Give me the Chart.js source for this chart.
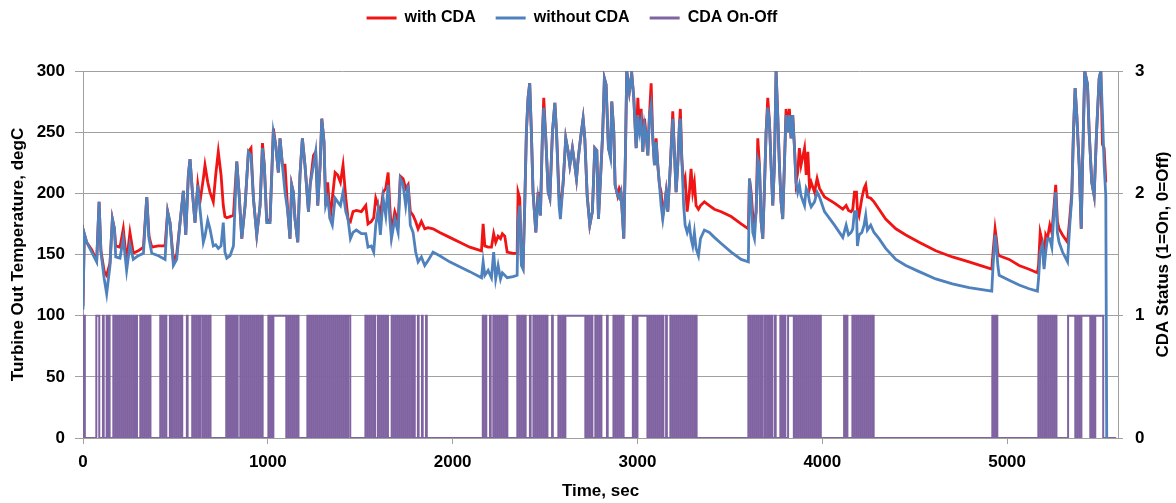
<!DOCTYPE html>
<html>
<head>
<meta charset="utf-8">
<script src="https://cdn.jsdelivr.net/npm/chart.js@4/dist/chart.umd.min.js"></script>
<style>
  html, body { margin: 0; padding: 0; background: #fff; }
  #wrap { width: 1176px; height: 503px; }
</style>
</head>
<body>
<div id="wrap"><canvas id="chart" width="1176" height="503"></canvas></div>
<script>
// Turbine out temperature (sec, degC)
const timeSec = [
  0,7,20,47,74,87,97,115,128,146, 159,170,177,200,218,236,254,272,299,327,
  345,357,372,408,444,458,471,489,507,525, 543,556,570,579,592,606,621,633,651,660,
  675,687,705,718,732,747,759,768,778,796, 814,832,844,859,877,895,909,922,940,958,
  971,981,994,1012,1030,1043,1057,1066,1079,1093, 1108,1120,1129,1138,1147,1162,1174,1187,1201,1220,
  1229,1247,1259,1270,1283,1292,1304,1313,1324,1337, 1349,1364,1378,1393,
  1407,1422,1434,1447,1461,1479,1506,1530,1542,1560, 1573,1584,1597,1609,1624,1638,1651,1660,1669,1687,
  1705,1717,1732,1746,1759,1771,1786,1800,1813,1831, 1849,1867,1894,1930,1984,2038,2093,2156,2165,2174,
  2192,2210,2222,2233,2246,2259,2269,2282,2295,2327, 2349,2354,2363,2372,2381,2390,2399,2408,2417,2426,
  2435,2450,2462,2475,2486,2493,2504,2517,2526,2540, 2553,2562,2576,2583,2598,2612,2625,2634,2648,2661,
  2670,2679,2692,2706,2715,2728,2742,2756,2769,2780, 2789,
  2799,2812,2821,2830,2843,2854,2861,2872,2879,2893, 2902,2911,2926,2935,2942,2956,2969,2980,2993,3002,
  3011,3020,3029,3038,3047,3056,3065,3074,3083,3092, 3101,3110,3119,3128,3137,3146,3155,3164,3178,3191,
  3200,3209,3218,3227,3232,3240,3250,3258,3269,3281, 3290,3299,3308,3317,3330,3341,3362,3389,3416,3453,
  3507,3561,3600,3606,3615,3624,3633,3642,3651,3660, 3669,3678,3687,3696,3705,3714,3723,3732,3741,3750,
  3759,3768,3777,3786,3795,3804,3813,3822,3831,3840, 3849,3858,3867,3876,3885,3904,3913,3922,3931,3940,
  3958,3972,3985,4012,4066,4111,4129,4142,4156,4165, 4174,4185,
  4190,4199,4214,4226,4235,4244,4262,4280,4307,4343, 4398,4452,4524,4614,4704,4794,4917,4924,4935,4942,
  4950,4957,5011,5065,5119,5164,5170,5179,5191,5200, 5209,5218,5231,5242,5254,5263,5272,5281,5300,5327,
  5339,5350,5359,5368,5377,5390,5401,5408,5420,5435, 5444,5458,5471,5484,5498,5507,5516,5525,5534,5539
];

const withCDA = [
  108,167,160,154,145,193,153,136,133,143, 179,171,157,156,171,144,168,151,153,156,
  197,165,156,157,157,185,176,145,150,176, 202,166,215,228,201,176,207,193,212,223,
  209,201,193,215,234,215,190,181,180,181, 182,226,201,163,190,234,237,196,166,190,
  241,223,178,178,253,239,217,245,223,223, 185,163,207,201,179,160,215,245,223,185,
  207,231,234,190,223,261,242,190,209,179, 196,217,215,209,
  223,196,179,177,185,186,185,190,175,177, 180,196,190,182,201,204,217,190,168,185,
  177,214,212,204,207,185,182,177,171,177, 171,172,171,168,164,160,156,153,175,157,
  156,156,167,160,165,163,167,165,152,151, 151,201,196,144,140,190,250,278,290,250,
  201,168,201,182,250,278,245,201,196,250, 274,250,198,185,209,245,234,223,237,223,
  212,228,245,261,245,198,174,185,237,235, 179,
  209,250,294,289,237,231,275,250,207,198, 204,201,163,234,300,283,298,278,237,278,
  250,269,234,261,248,231,264,290,245,223, 245,223,207,201,182,190,201,185,223,267,
  234,201,223,256,269,228,207,212,185,201, 220,201,209,190,187,190,193,190,187,185,
  181,175,171,212,201,182,176,185,245,223, 177,163,204,250,278,259,223,190,223,300,
  264,223,193,179,223,269,250,269,245,264, 239,209,217,237,223,237,215,234,204,209,
  201,212,204,197,192,187,190,186,185,187, 201,201,
  187,182,196,204,207,197,196,193,187,179, 171,166,160,153,148,144,138,152,171,163,
  151,149,146,141,138,135,141,168,160,141, 166,163,174,168,190,207,177,171,166,160,
  180,200,250,286,264,223,171,223,300,289, 250,209,198,250,294,300,240,237,209,null
];

const withoutCDA = [
  105,167,160,152,144,193,152,130,118,141, 179,171,148,147,163,137,158,146,149,151,
  197,163,151,149,146,185,176,141,146,176, 202,166,215,228,201,176,207,187,160,165,
  178,171,157,158,155,157,176,152,147,149, 157,226,201,163,190,234,231,196,166,190,
  237,223,176,176,250,239,217,245,223,201, 185,163,207,201,179,160,215,245,223,185,
  207,223,234,190,223,261,242,190,196,179, 174,196,193,190,
  201,185,179,163,168,170,167,167,156,157, 152,174,187,166,196,182,207,179,163,179,
  168,212,207,190,207,174,168,152,144,148, 141,145,152,149,144,140,136,131,144,133,
  137,131,152,130,141,130,135,133,131,132, 133,179,190,141,138,190,250,278,290,250,
  201,168,196,182,250,270,245,201,196,250, 274,250,190,179,209,245,234,223,237,223,
  212,228,245,261,245,198,174,185,237,235, 179,
  209,250,294,289,237,229,275,250,207,198, 196,201,163,234,300,283,298,278,237,264,
  250,258,234,256,248,231,264,272,245,223, 242,223,207,190,179,190,201,185,223,261,
  234,201,223,256,261,228,190,174,168,174, 163,157,168,155,149,163,170,168,164,159,
  152,146,144,212,196,168,163,185,228,223, 177,163,204,250,270,259,223,190,223,300,
  264,223,193,179,223,264,250,264,245,264, 239,209,201,207,198,190,204,201,193,189,
  193,201,197,185,174,164,174,166,168,171, 185,185,
  157,166,168,174,182,170,174,168,163,155, 146,141,136,130,126,123,120,141,166,157,
  141,133,129,125,122,120,130,152,158,138, 152,163,163,156,185,201,168,160,152,144,
  174,196,250,286,264,223,171,223,300,289, 250,209,198,250,294,300,264,223,198,0
];

// CDA on/off: starts Off, flips state at each of these times (sec)
const cdaStart = 0;
const cdaEndSec = 5590;
const cdaToggleSec = [
  10, 72,88, 108,112, 128,132,140,144,
  164,175,186,197,208,219,230,241,252,263,274,283, 288,292,
  310,321,332,343,354,365, 418,429,440,451, 470,474,
  483,494,505,516,527,537, 562,566,
  591,602,613,624,634,646,657,668,679,690,
  775,785,795,805,815,824, 833,837,
  851,862,873,884,895,906,917,928,939,950,961,972,
  1003,1010,1017,1024, 1030,
  1100,1111,1122,1133,1144,1155,1166,
  1214,1225,1236,1247,1258,1269,1280,1291,1302,1313,1324,1335,1346,1357,1368,1379,1390,1401,1412,1423,1434,1446,
  1528,1539,1550,1561,1572,1580, 1595,1606,1617,1628,1639,1650,
  1670,1681,1692,1703,1714,1725,1736,1747,1758,1769,1780,1787,
  1791,1795,1812,1816,1834,1838,1856,1860,
  2163,2167,2178,2182, 2202,2206,
  2220,2231,2242,2253,2264,2275,2286,2296,
  2350,2361,2372,2383, 2391,2395,2418,2422,
  2437,2448,2459,2470,2481,2492,2503,2513, 2538,2542,
  2572,2583,2594,2604, 2610,
  2718,2729,2740,2751,2756, 2772,2783,2794,2805, 2835,2839,
  2870,2881,2892,2903,2914,2925, 2975,2979,2990,2994, 3000,
  3054,3065,3076,3087,3098,3109,3120,3131,3140, 3155,3159,
  3178,3189,3200,3211,3222,3233,3244,3255,3266,3277,3288,3299,3310,3320,
  3600,3611,3622,3633,3644,3655,3666,3676, 3688,3692,
  3703,3712,3721,3730, 3744,3748, 3773,3782,3791,3800, 3815,3846,
  3849,3860,3871,3882,3893,3904,3915,3926,3937,3948,3959,3970,3981,3992,
  4118,4122,4132,4136,
  4163,4174,4185,4196,4207,4218,4229,4240,4251,4262,4273,4278,
  4920,4929,4938,4947,
  5169,5180,5191,5202,5212,5223,5234,5245,5256,5267,
  5330, 5369,5380,5391,5402, 5450,5459,5468,5477, 5520,5545
];

const xTicks = [0, 1000, 2000, 3000, 4000, 5000];

const FONT = '"Liberation Sans", Arial, sans-serif';
const GRID = '#a0a0a0';

// build step points for the on/off trace
const cdaPoints = [{ x: 0, y: cdaStart }];
let state = cdaStart;
cdaToggleSec.forEach(t => {
    state = 1 - state;
    cdaPoints.push({ x: t, y: state });
});
cdaPoints.push({ x: cdaEndSec, y: state });

const redPoints = timeSec.map((t, i) => ({ x: t, y: withCDA[i] }));
const bluePoints = timeSec.map((t, i) => ({ x: t, y: withoutCDA[i] }));

// right axis title reads bottom-to-top like the left one
const rightTitle = {
    id: 'rightTitle',
    afterDraw(chart) {
        const { ctx, chartArea } = chart;
        const s = chart.scales.yRight;
        ctx.save();
        ctx.translate(s.right - 13, (chartArea.top + chartArea.bottom) / 2);
        ctx.rotate(-Math.PI / 2);
        ctx.font = 'bold 17px ' + FONT;
        ctx.fillStyle = '#000';
        ctx.textAlign = 'center';
        ctx.textBaseline = 'middle';
        ctx.fillText('CDA Status (1=On, 0=Off)', 0, 0);
        ctx.restore();
    }
};

// legend box tall enough to push the plot down to where it sits in the original
const legendBox = {
    id: 'legendBox',
    afterInit(chart) {
        const legend = chart.legend;
        const fit = legend.fit.bind(legend);
        legend.fit = function () { fit(); this.height = 81; };
    },
    afterLayout(chart) {
        chart.legend.left -= 16;
        chart.legend.right -= 16;
    }
};

Chart.defaults.font.family = FONT;
Chart.defaults.color = '#000';

new Chart(document.getElementById('chart'), {
    type: 'line',
    data: {
        datasets: [
            {
                label: 'with CDA',
                data: redPoints,
                borderColor: '#f01414',
                backgroundColor: '#f01414',
                borderWidth: 2.8,
                pointRadius: 0,
                yAxisID: 'y',
                order: 1
            },
            {
                label: 'without CDA',
                data: bluePoints,
                borderColor: '#4f81bd',
                backgroundColor: '#4f81bd',
                borderWidth: 2.8,
                pointRadius: 0,
                yAxisID: 'y',
                order: 0
            },
            {
                label: 'CDA On-Off',
                data: cdaPoints,
                borderColor: '#8064a2',
                backgroundColor: '#8064a2',
                borderWidth: 2,
                pointRadius: 0,
                stepped: 'after',
                yAxisID: 'yRight',
                order: 2
            }
        ]
    },
    options: {
        responsive: false,
        animation: false,
        layout: { padding: { top: -10, left: 0, right: 0, bottom: 0 } },
        plugins: {
            legend: {
                position: 'top',
                labels: {
                    font: { size: 16, weight: 'bold' },
                    boxWidth: 30,
                    boxHeight: 3,
                    padding: 20,
                    sort: (a, b) => a.datasetIndex - b.datasetIndex,
                    generateLabels(chart) {
                        const items = Chart.defaults.plugins.legend.labels.generateLabels(chart);
                        items.forEach(it => { it.fillStyle = it.strokeStyle; it.lineWidth = 0; });
                        return items;
                    }
                }
            },
            tooltip: { enabled: false }
        },
        scales: {
            x: {
                type: 'linear',
                position: 'bottom',
                min: 0,
                max: 5600,
                afterBuildTicks: s => { s.ticks = xTicks.map(v => ({ value: v })); },
                ticks: { font: { size: 17, weight: 'bold' }, padding: 8, maxRotation: 0, callback: v => String(v) },
                grid: { drawOnChartArea: false, color: GRID, tickLength: 6 },
                border: { color: GRID },
                title: { display: true, text: 'Time, sec', font: { size: 17, weight: 'bold' }, padding: { top: 0, bottom: 1 } },
                afterFit: s => { s.height = 65; }
            },
            y: {
                position: 'left',
                min: 0,
                max: 300,
                ticks: { stepSize: 50, font: { size: 17, weight: 'bold' }, padding: 10 },
                grid: { color: GRID, tickLength: 8 },
                border: { color: GRID },
                title: { display: true, text: 'Turbine Out Temperature, degC', font: { size: 17, weight: 'bold' }, padding: { top: 8, bottom: 0 } },
                afterFit: s => { s.width = 83; }
            },
            yRight: {
                position: 'right',
                min: 0,
                max: 3,
                ticks: { stepSize: 1, font: { size: 17, weight: 'bold' }, padding: 12 },
                grid: { drawOnChartArea: false, color: GRID, tickLength: 5 },
                border: { color: GRID },
                afterFit: s => { s.width = 58; }
            }
        }
    },
    plugins: [rightTitle, legendBox]
});
</script>
</body>
</html>
